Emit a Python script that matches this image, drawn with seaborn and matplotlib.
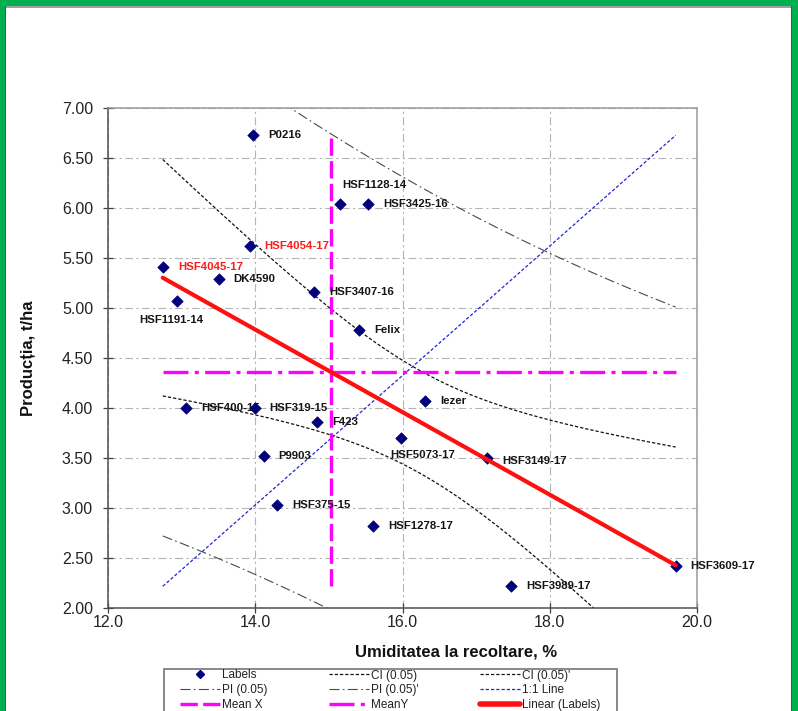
import numpy as np
import pandas as pd
import matplotlib
matplotlib.use("Agg")
import matplotlib.pyplot as plt
from matplotlib.lines import Line2D
from matplotlib.patches import Rectangle
from matplotlib.ticker import MultipleLocator, FormatStrFormatter
import seaborn as sns

# ---- data -------------------------------------------------------------
hybrids = ["P0216", "HSF1128-14", "HSF3425-16", "HSF4054-17", "HSF4045-17",
           "DK4590", "HSF1191-14", "HSF3407-16", "Felix", "Iezer",
           "HSF400-15", "HSF319-15", "F423", "HSF5073-17", "HSF3149-17",
           "P9903", "HSF375-15", "HSF1278-17", "HSF3989-17", "HSF3609-17"]
moisture = [13.97, 15.15, 15.53, 13.92, 12.74,
            13.50, 12.93, 14.80, 15.41, 16.31,
            13.06, 13.99, 14.84, 15.98, 17.15,
            14.11, 14.29, 15.60, 17.47, 19.71]
yield_t = [6.73, 6.04, 6.04, 5.62, 5.41,
           5.29, 5.07, 5.16, 4.78, 4.07,
           4.00, 4.00, 3.86, 3.70, 3.50,
           3.52, 3.03, 2.82, 2.22, 2.42]
highlighted = ["HSF4054-17", "HSF4045-17"]
x_ticks = [12.0, 14.0, 16.0, 18.0, 20.0]
y_ticks = [2.0, 2.5, 3.0, 3.5, 4.0, 4.5, 5.0, 5.5, 6.0, 6.5, 7.0]

df = pd.DataFrame({"hybrid": hybrids, "umiditate": moisture, "productie": yield_t})

# ---- regression statistics ---------------------------------------------
x = df["umiditate"].to_numpy()
y = df["productie"].to_numpy()
n = len(x)
slope, intercept = np.polyfit(x, y, 1)
resid = y - (intercept + slope * x)
s_err = np.sqrt(np.sum(resid ** 2) / (n - 2))
T_975 = 2.1009  # Student t quantile, 18 degrees of freedom
sxx = np.sum((x - x.mean()) ** 2)
x_mid = (x.min() + x.max()) / 2.0  # bands centred on the middle of the range

xg = np.linspace(x.min(), x.max(), 300)
fit = intercept + slope * xg
lev = 1.0 / n + (xg - x_mid) ** 2 / sxx
ci = T_975 * s_err * np.sqrt(lev)
pi = T_975 * s_err * np.sqrt(1.0 + lev)

# ---- figure -------------------------------------------------------------
sns.set_theme(style="white")
plt.rcParams["font.family"] = ["Liberation Sans", "DejaVu Sans"]

W, H = 798, 711
fig = plt.figure(figsize=(W / 100, H / 100), dpi=100, facecolor="white")
ax = fig.add_axes([108.3 / W, 1 - 608.3 / H, (697 - 108.3) / W, 500 / H])
ax.set_facecolor("white")

ax.set_xlim(12.0, 20.0)
ax.set_ylim(2.0, 7.0)
ax.set_xticks(x_ticks)
ax.set_yticks(y_ticks)
ax.xaxis.set_major_formatter(FormatStrFormatter("%.1f"))
ax.yaxis.set_major_formatter(FormatStrFormatter("%.2f"))
ax.xaxis.set_minor_locator(MultipleLocator(0.4))
ax.yaxis.set_minor_locator(MultipleLocator(0.1))
ax.tick_params(axis="both", which="major", direction="inout", length=7,
               width=0.9, color="#404040", labelsize=11.5, labelcolor="#222222")
ax.tick_params(axis="x", which="major", pad=1.5)
ax.tick_params(axis="y", which="major", pad=7.5)
ax.tick_params(axis="both", which="minor", direction="in", length=3,
               width=0.8, color="#404040")
ax.tick_params(bottom=True, left=True, top=False, right=False)

for side in ("left", "bottom"):
    ax.spines[side].set_color("#505050")
    ax.spines[side].set_linewidth(1.1)
for side in ("top", "right"):
    ax.spines[side].set_color("#9a9a9a")
    ax.spines[side].set_linewidth(1.1)

ax.grid(True, which="major", color="#b4b4b4", linewidth=0.8,
        linestyle=(0, (7, 3, 2, 3)))
ax.set_axisbelow(True)

# interval bands
pi_style = dict(color="#4a4a4a", linewidth=0.8, linestyle=(0, (9, 3, 1.5, 3)), zorder=2)
ci_style = dict(color="#111111", linewidth=0.9, linestyle=(0, (2.6, 1.6)), zorder=2)
ax.plot(xg, fit + pi, **pi_style)
ax.plot(xg, fit - pi, **pi_style)
ax.plot(xg, fit + ci, **ci_style)
ax.plot(xg, fit - ci, **ci_style)

# 1:1 line across the data extent
one_style = dict(color="#2323d8", linewidth=0.9, linestyle=(0, (2.6, 1.6)), zorder=2)
ax.plot([x.min(), x.max()], [y.min(), y.max()], **one_style)

# means
mx_style = dict(color="#ff00ff", linewidth=2.4, linestyle=(0, (5.2, 1.6)), zorder=3)
my_style = dict(color="#ff00ff", linewidth=2.4, linestyle=(0, (7.5, 1.9, 1.2, 1.9)), zorder=3)
ax.plot([x.mean(), x.mean()], [y.min(), y.max()], **mx_style)
ax.plot([x.min(), x.max()], [y.mean(), y.mean()], **my_style)

# points and regression line
sns.scatterplot(data=df, x="umiditate", y="productie", marker="D", s=34,
                color="#00007a", edgecolor="#00007a", linewidth=0.5,
                ax=ax, zorder=5, legend=False)
xl = np.array([x.min(), x.max()])
sns.lineplot(x=xl, y=intercept + slope * xl, color="#ff1010", linewidth=3.0,
             ax=ax, zorder=6, legend=False)

# point labels
special = {"HSF1128-14": (34, 19, "center"),
           "HSF1191-14": (-5, -19, "center"),
           "HSF5073-17": (22, -17, "center"),
           "HSF3149-17": (15, -3, "left")}
for name, xv, yv in zip(hybrids, moisture, yield_t):
    dx, dy, ha = special.get(name, (15, 0, "left"))
    ax.annotate(name, (xv, yv), xytext=(dx, dy), textcoords="offset pixels",
                ha=ha, va="center", fontsize=8.2, fontweight="bold",
                color="#ff1a1a" if name in highlighted else "#151515",
                zorder=4)

ax.set_xlabel("Umiditatea la recoltare, %", fontsize=12, fontweight="bold",
              color="#111111")
ax.set_ylabel("Producția, t/ha", fontsize=12, fontweight="bold", color="#111111")
ax.xaxis.label.set_va("center")
ax.yaxis.label.set_va("center")
ax.xaxis.set_label_coords((456 - 108.3) / 588.7, (608.3 - 652) / 500)
ax.yaxis.set_label_coords((28.5 - 108.3) / 588.7, 0.5)

# legend box, running off the bottom edge
fig.add_artist(Rectangle((164 / W, (H - 725) / H), (617 - 164) / W, (725 - 669) / H,
                         transform=fig.transFigure, facecolor="white",
                         edgecolor="#808080", linewidth=1.3, zorder=1))

h_labels = Line2D([], [], marker="D", color="#00007a", linestyle="none", markersize=3.6)
h_ci = Line2D([], [], **{k: v for k, v in ci_style.items() if k != "zorder"})
h_pi = Line2D([], [], **{k: v for k, v in pi_style.items() if k != "zorder"})
h_one = Line2D([], [], **{k: v for k, v in one_style.items() if k != "zorder"})
h_mx = Line2D([], [], **{k: v for k, v in mx_style.items() if k != "zorder"})
h_my = Line2D([], [], **{k: v for k, v in my_style.items() if k != "zorder"})
h_lin = Line2D([], [], color="#ff1010", linewidth=4.0)

# column-major order for a 3-column legend
handles = [h_labels, h_pi, h_mx, h_ci, h_pi, h_my, h_ci, h_one, h_lin]
labels = ["Labels", "PI (0.05)", "Mean X", "CI (0.05)", "PI (0.05)'", "MeanY",
          "CI (0.05)'", "1:1 Line", "Linear (Labels)"]
leg = fig.legend(handles, labels, ncol=3, loc="upper left",
                 bbox_to_anchor=(180 / W, 1 - 669.5 / H), bbox_transform=fig.transFigure,
                 frameon=False, fontsize=8.5, borderpad=0, borderaxespad=0,
                 handlelength=3.4, handletextpad=0.15, columnspacing=5.2,
                 labelspacing=0.23)
leg.set_zorder(2)
for t in leg.get_texts():
    t.set_color("#222222")

# green page frame
green = "#00b050"
fig.add_artist(Rectangle((0, 0), 4.5 / W, 1, transform=fig.transFigure,
                         facecolor=green, edgecolor="none", zorder=10))
fig.add_artist(Rectangle(((W - 6) / W, 0), 6 / W, 1, transform=fig.transFigure,
                         facecolor=green, edgecolor="none", zorder=10))
fig.add_artist(Rectangle((0, 1 - 6 / H), 1, 6 / H, transform=fig.transFigure,
                         facecolor=green, edgecolor="none", zorder=10))
fig.add_artist(Rectangle((4.5 / W, 1 - 7.5 / H), (W - 10.5) / W, 1.5 / H,
                         transform=fig.transFigure, facecolor="#a0a0a0",
                         edgecolor="none", zorder=10))
fig.add_artist(Rectangle((4.5 / W, 0), 1.2 / W, 1 - 6 / H, transform=fig.transFigure,
                         facecolor="#505050", edgecolor="none", zorder=10))
fig.add_artist(Rectangle(((W - 7.2) / W, 0), 1.2 / W, 1 - 6 / H, transform=fig.transFigure,
                         facecolor="#505050", edgecolor="none", zorder=10))

fig.savefig("out.png", dpi=100, facecolor="white")
